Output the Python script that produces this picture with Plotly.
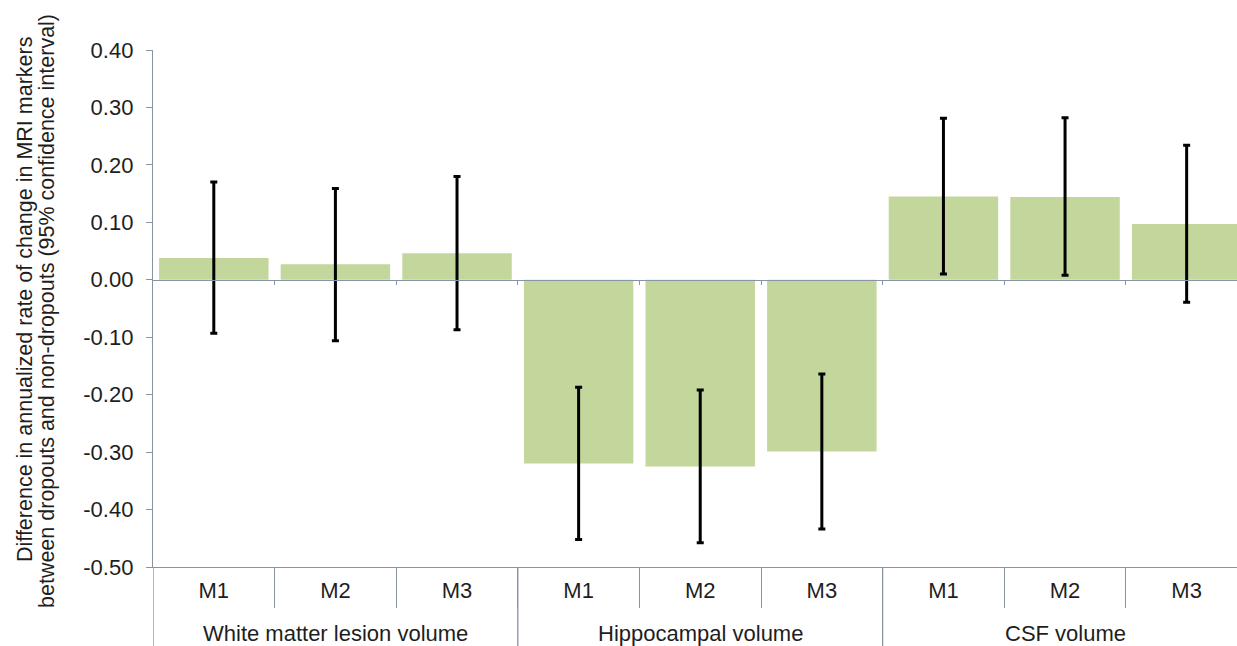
import plotly.graph_objects as go

# ---- data ----
groups = ["White matter lesion volume", "Hippocampal volume", "CSF volume"]
models = ["M1", "M2", "M3"]
values = [0.038, 0.027, 0.046, -0.320, -0.325, -0.299, 0.145, 0.144, 0.097]
ci_high = [0.170, 0.159, 0.180, -0.187, -0.192, -0.164, 0.281, 0.282, 0.234]
ci_low = [-0.093, -0.106, -0.087, -0.452, -0.458, -0.434, 0.010, 0.008, -0.039]
y_tickvals = [0.40, 0.30, 0.20, 0.10, 0.00, -0.10, -0.20, -0.30, -0.40, -0.50]
y_ticktext = ["0.40", "0.30", "0.20", "0.10", "0.00", "-0.10", "-0.20", "-0.30", "-0.40", "-0.50"]
y_title_lines = ["Difference in annualized rate of change in MRI markers",
                 "between dropouts and non-dropouts (95% confidence interval)"]

n = len(values)
k = len(models)
x_pos = list(range(n))
x_labels = [m for _ in groups for m in models]
err_plus = [h - v for h, v in zip(ci_high, values)]
err_minus = [v - l for v, l in zip(values, ci_low)]
boundaries = [i + 0.5 for i in range(n - 1)]

y_min, y_max = -0.5, 0.4
x_rng = [-0.5, n - 0.586]

W, H = 1237, 646
ML, MT, MB = 153, 50, 79
plot_h = H - MT - MB
AXIS_COLOR = "#8795a3"
TEXT_COLOR = "#1e1e1e"
FONT = "Liberation Sans, Arial, sans-serif"
FS = 22

fig = go.Figure()
fig.add_trace(go.Bar(
    x=x_pos, y=values,
    marker=dict(color="#c3d69b", line=dict(width=0)),
    error_y=dict(type="data", symmetric=False, array=err_plus, arrayminus=err_minus,
                 color="black", thickness=3, width=3.5),
    hoverinfo="skip", showlegend=False,
))
# invisible trace to host the zero-line axis
fig.add_trace(go.Scatter(x=[x_rng[0]], y=[None], xaxis="x2", yaxis="y",
                         mode="markers", showlegend=False, hoverinfo="skip"))

annotations = []
for cx, cy, txt in [(25, 300, y_title_lines[0]), (47, 311, y_title_lines[1])]:
    annotations.append(dict(
        text=txt, textangle=-90, xref="paper", yref="paper",
        x=(cx - ML) / (W - ML), y=(H - MB - cy) / plot_h,
        xanchor="center", yanchor="middle", showarrow=False,
        font=dict(size=21.5, color=TEXT_COLOR, family=FONT),
    ))
# group (outer category) labels
for gi, g in enumerate(groups):
    annotations.append(dict(
        text=g, xref="x", yref="paper", x=gi * k + (k - 1) / 2,
        y=-(633 - (H - MB)) / plot_h, xanchor="center", yanchor="middle",
        showarrow=False, font=dict(size=FS, color=TEXT_COLOR, family=FONT),
    ))

# group dividers spanning both label rows
shapes = []
for gi in range(len(groups) + 1):
    shapes.append(dict(
        type="line", xref="x", yref="paper",
        x0=gi * k - 0.5, x1=gi * k - 0.5, y0=0, y1=-MB / plot_h - 0.01,
        line=dict(color=AXIS_COLOR, width=1.3), layer="above",
    ))

fig.update_layout(
    width=W, height=H,
    margin=dict(l=ML, r=0, t=MT, b=MB, pad=0),
    paper_bgcolor="white", plot_bgcolor="white",
    font=dict(family=FONT, size=FS, color=TEXT_COLOR),
    bargap=0.1,
    xaxis=dict(
        range=x_rng, tickmode="array", tickvals=x_pos, ticktext=x_labels,
        ticks="", showline=True, linecolor=AXIS_COLOR, linewidth=1.3,
        minor=dict(tickmode="array", tickvals=boundaries, ticks="outside", ticklen=40,
                   tickcolor=AXIS_COLOR, tickwidth=1.3, showgrid=False),
        ticklabelstandoff=3,
        showgrid=False, zeroline=False, tickfont=dict(size=FS, color=TEXT_COLOR),
    ),
    xaxis2=dict(
        overlaying="x", anchor="free", position=(0 - y_min) / (y_max - y_min),
        range=x_rng, tickvals=boundaries,
        ticks="outside", ticklen=4, tickcolor=AXIS_COLOR, tickwidth=1.3,
        showticklabels=False, showline=True, linecolor=AXIS_COLOR, linewidth=1.3,
        showgrid=False, zeroline=False,
    ),
    yaxis=dict(
        range=[y_min, y_max], tickvals=y_tickvals, ticktext=y_ticktext,
        showline=True, linecolor=AXIS_COLOR, linewidth=1.3,
        ticks="outside", ticklen=6, tickcolor=AXIS_COLOR, tickwidth=1.3,
        ticklabelstandoff=8,
        showgrid=False, zeroline=False, tickfont=dict(size=FS, color=TEXT_COLOR),
    ),
    annotations=annotations,
    shapes=shapes,
)

fig.write_html("out.html", config={"displayModeBar": False},
               post_script="document.body.style.margin='0';document.body.style.overflow='hidden';")
